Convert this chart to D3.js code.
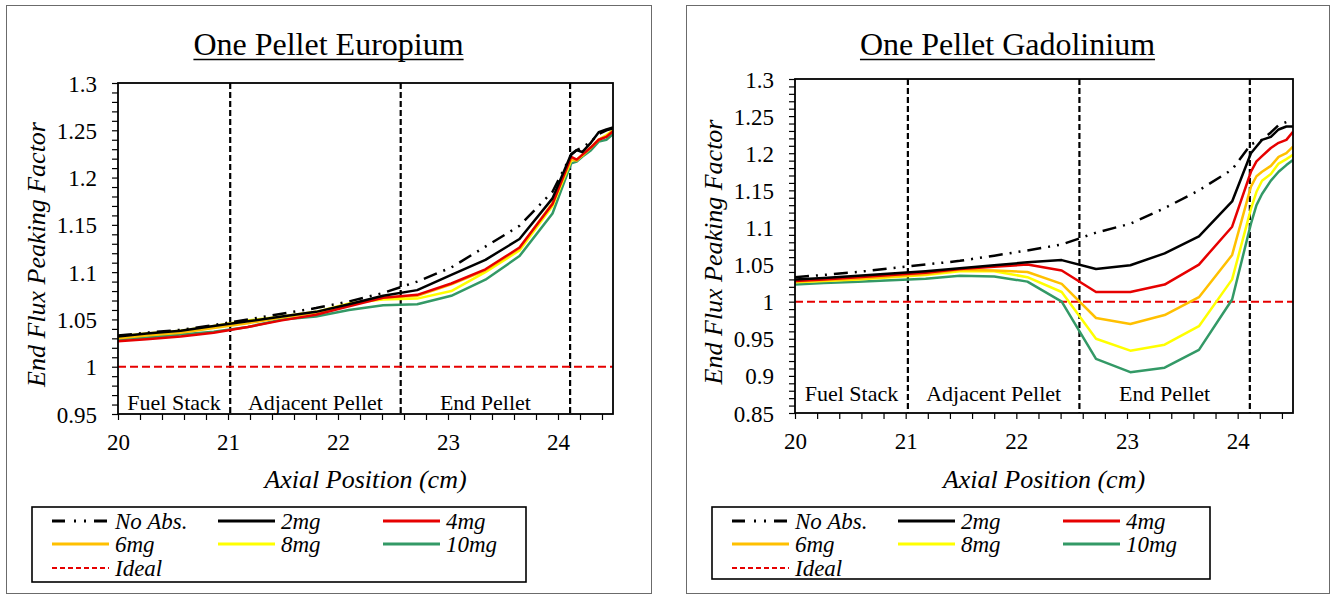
<!DOCTYPE html>
<html><head><meta charset="utf-8">
<script src="https://cdn.jsdelivr.net/npm/d3@7"></script>
<style>
body{margin:0;background:#fff;} svg{display:block;}
svg text{font-family:"Liberation Serif","Times New Roman",Times,serif;}
</style>
</head><body>
<svg id="c" width="1332" height="595"></svg>
<script>
// ---------- data ----------
const axialPos = [20.0, 20.26, 20.57, 20.87, 21.18, 21.49, 21.80, 22.10, 22.41, 22.72, 23.03, 23.34, 23.65, 23.95, 24.12, 24.17, 24.22, 24.30, 24.37, 24.44, 24.50];

// One Pellet Europium
const euNoAbs = [1.033, 1.036, 1.039, 1.044, 1.050, 1.056, 1.062, 1.069, 1.078, 1.090, 1.105, 1.127, 1.149, 1.185, 1.224, 1.229, 1.232, 1.238, 1.246, 1.250, 1.252];
const eu2mg   = [1.032, 1.035, 1.038, 1.043, 1.048, 1.053, 1.058, 1.066, 1.075, 1.081, 1.097, 1.113, 1.135, 1.178, 1.225, 1.229, 1.227, 1.237, 1.248, 1.251, 1.253];
const eu4mg   = [1.027, 1.029, 1.032, 1.036, 1.042, 1.049, 1.055, 1.064, 1.073, 1.076, 1.088, 1.103, 1.126, 1.172, 1.222, 1.219, 1.224, 1.232, 1.240, 1.243, 1.249];
const eu6mg   = [1.030, 1.033, 1.036, 1.041, 1.046, 1.052, 1.057, 1.066, 1.073, 1.075, 1.087, 1.102, 1.125, 1.173, 1.219, 1.218, 1.224, 1.232, 1.240, 1.244, 1.249];
const eu8mg   = [1.032, 1.035, 1.038, 1.043, 1.049, 1.053, 1.058, 1.067, 1.071, 1.072, 1.080, 1.100, 1.123, 1.170, 1.218, 1.219, 1.223, 1.232, 1.240, 1.245, 1.250];
const eu10mg  = [1.029, 1.031, 1.034, 1.037, 1.042, 1.050, 1.053, 1.060, 1.065, 1.066, 1.075, 1.092, 1.117, 1.162, 1.215, 1.217, 1.222, 1.229, 1.238, 1.240, 1.246];

// One Pellet Gadolinium
const gdNoAbs = [1.033, 1.036, 1.040, 1.045, 1.050, 1.055, 1.062, 1.069, 1.077, 1.093, 1.105, 1.126, 1.150, 1.178, 1.212, 1.215, 1.218, 1.228, 1.238, 1.242, 1.243];
const gd2mg   = [1.030, 1.032, 1.035, 1.038, 1.041, 1.045, 1.049, 1.053, 1.056, 1.044, 1.049, 1.065, 1.088, 1.135, 1.200, 1.209, 1.218, 1.222, 1.232, 1.236, 1.236];
const gd4mg   = [1.028, 1.030, 1.033, 1.036, 1.039, 1.044, 1.047, 1.050, 1.042, 1.013, 1.013, 1.023, 1.050, 1.101, 1.175, 1.189, 1.196, 1.207, 1.214, 1.218, 1.229];
const gd6mg   = [1.027, 1.029, 1.031, 1.034, 1.037, 1.043, 1.042, 1.040, 1.024, 0.978, 0.970, 0.982, 1.006, 1.063, 1.155, 1.169, 1.175, 1.183, 1.195, 1.200, 1.209];
const gd8mg   = [1.026, 1.028, 1.030, 1.033, 1.036, 1.041, 1.041, 1.033, 1.013, 0.950, 0.934, 0.942, 0.967, 1.030, 1.125, 1.148, 1.163, 1.172, 1.186, 1.192, 1.198];
const gd10mg  = [1.023, 1.025, 1.027, 1.029, 1.031, 1.035, 1.034, 1.027, 1.000, 0.923, 0.905, 0.911, 0.935, 1.003, 1.105, 1.130, 1.145, 1.163, 1.175, 1.184, 1.191];

const idealValue = 1;
const seriesNames = ["No Abs.", "2mg", "4mg", "6mg", "8mg", "10mg", "Ideal"];
const regionLabels = ["Fuel Stack", "Adjacent Pellet", "End Pellet"];
const regionBounds = [21.02, 22.57, 24.11];
const xTicks = [20, 21, 22, 23, 24];
const yTicksEu = [0.95, 1, 1.05, 1.1, 1.15, 1.2, 1.25, 1.3];
const yTicksGd = [0.85, 0.9, 0.95, 1, 1.05, 1.1, 1.15, 1.2, 1.25, 1.3];
const titles = ["One Pellet Europium", "One Pellet Gadolinium"];

// ---------- styles ----------
const styles = {
  "No Abs.": {color: "#000000", dash: "14,7,2,7,2,7", width: 2.5},
  "2mg":  {color: "#000000", dash: null, width: 2.5},
  "4mg":  {color: "#E60000", dash: null, width: 2.5},
  "6mg":  {color: "#FFC000", dash: null, width: 2.5},
  "8mg":  {color: "#FFFF00", dash: null, width: 2.5},
  "10mg": {color: "#339966", dash: null, width: 2.5},
  "Ideal":{color: "#E60000", dash: "8,4", width: 2}
};

const svg = d3.select("#c");

function drawChart(cfg) {
  const g = svg.append("g");
  g.append("rect").attr("x", cfg.panel[0] + 0.5).attr("y", cfg.panel[1] + 0.5)
    .attr("width", cfg.panel[2]).attr("height", cfg.panel[3])
    .attr("fill", "none").attr("stroke", "#6b6b6b").attr("stroke-width", 1);

  const [L, T, R, B] = cfg.plot;
  const x = d3.scaleLinear().domain([20, 24.5]).range([L, R]);
  const y = d3.scaleLinear().domain(cfg.yDomain).range([B, T]);

  const clipId = "clip" + cfg.id;
  g.append("clipPath").attr("id", clipId).append("rect")
    .attr("x", L).attr("y", T).attr("width", R - L).attr("height", B - T);

  const yMinor = d3.range(Math.round(cfg.yDomain[0] * 100), Math.round(cfg.yDomain[1] * 100) + 1).map(v => v / 100);
  const xMinor = d3.range(100, 123).map(v => v / 5);
  g.append("g").attr("transform", `translate(${L},0)`)
    .call(d3.axisLeft(y).tickValues(yMinor).tickSize(6).tickFormat(""))
    .call(a => a.select(".domain").remove())
    .call(a => a.selectAll("line").attr("stroke", "#000").attr("stroke-width", 1.2));
  g.append("g").attr("transform", `translate(0,${B})`)
    .call(d3.axisBottom(x).tickValues(xMinor).tickSize(6).tickFormat(""))
    .call(a => a.select(".domain").remove())
    .call(a => a.selectAll("line").attr("stroke", "#000").attr("stroke-width", 1.2));

  const yAx = g.append("g").attr("transform", `translate(${L},0)`)
    .call(d3.axisLeft(y).tickValues(cfg.yTicks).tickSize(0).tickPadding(21).tickFormat(d3.format("~g")));
  yAx.select(".domain").remove();
  yAx.attr("font-family", null).attr("font-size", null);
  yAx.selectAll("text").style("font-size", "23px").attr("fill", "#000").attr("dy", "0.35em");
  const xAx = g.append("g").attr("transform", `translate(0,${B})`)
    .call(d3.axisBottom(x).tickValues(xTicks).tickSize(0).tickPadding(0).tickFormat(d3.format("d")));
  xAx.select(".domain").remove();
  xAx.attr("font-family", null).attr("font-size", null);
  xAx.selectAll("text").style("font-size", "23px").attr("fill", "#000")
    .attr("dy", null).attr("y", 36);

  g.selectAll(".bound").data(regionBounds).enter().append("line")
    .attr("x1", d => x(d)).attr("x2", d => x(d)).attr("y1", T).attr("y2", B)
    .attr("stroke", "#000").attr("stroke-width", 2.2).attr("stroke-dasharray", "6,3");

  const ideal = styles["Ideal"];
  g.append("line").attr("x1", L).attr("x2", R).attr("y1", y(idealValue)).attr("y2", y(idealValue))
    .attr("stroke", ideal.color).attr("stroke-width", ideal.width).attr("stroke-dasharray", ideal.dash);

  const line = d3.line().x((d, i) => x(axialPos[i])).y(d => y(d));
  const order = [5, 4, 3, 2, 1, 0];
  const lg = g.append("g").attr("clip-path", `url(#${clipId})`);
  order.forEach(k => {
    const name = seriesNames[k];
    const st = styles[name];
    lg.append("path").datum(cfg.series[k]).attr("d", line)
      .attr("fill", "none").attr("stroke", st.color).attr("stroke-width", st.width)
      .attr("stroke-linejoin", "round")
      .attr("stroke-dasharray", st.dash);
  });

  const rEdges = [20].concat(regionBounds);
  regionLabels.forEach((lab, i) => {
    g.append("text").attr("x", x((rEdges[i] + rEdges[i + 1]) / 2)).attr("y", cfg.regionBase)
      .attr("text-anchor", "middle").style("font-size", "22px")
      .attr("fill", "#000").text(lab);
  });

  g.append("rect").attr("x", L).attr("y", T).attr("width", R - L).attr("height", B - T)
    .attr("fill", "none").attr("stroke", "#000").attr("stroke-width", 1.8);

  const cx = cfg.panel[0] + cfg.panel[2] / 2;
  const tt = g.append("text").attr("x", cx).attr("y", 55).attr("text-anchor", "middle")
    .style("font-size", "32px").attr("fill", "#000").text(cfg.title);
  const tw = tt.node().getComputedTextLength();
  g.append("line").attr("x1", cx - tw / 2).attr("x2", cx + tw / 2).attr("y1", 59.5).attr("y2", 59.5)
    .attr("stroke", "#000").attr("stroke-width", 1.6);

  g.append("text").attr("transform", `translate(${L - 73},${(T + B) / 2 + 6}) rotate(-90)`)
    .attr("text-anchor", "middle").style("font-style", "italic")
    .style("font-size", "26px").attr("fill", "#000").text("End Flux Peaking Factor");
  g.append("text").attr("x", (L + R) / 2).attr("y", 488).attr("text-anchor", "middle")
    .style("font-style", "italic").style("font-size", "26px")
    .attr("fill", "#000").text("Axial Position (cm)");

  const [lx, ly, lw, lh] = cfg.legend;
  g.append("rect").attr("x", lx).attr("y", ly).attr("width", lw).attr("height", lh)
    .attr("fill", "#fff").attr("stroke", "#000").attr("stroke-width", 1.6);
  const colX = [20, 186, 351];
  const rowY = [14, 37, 61];
  seriesNames.forEach((name, i) => {
    const c = i % 3, r = Math.floor(i / 3);
    const st = styles[name];
    const x0 = lx + colX[c], yy = ly + rowY[r];
    g.append("line").attr("x1", x0).attr("x2", x0 + 57).attr("y1", yy).attr("y2", yy)
      .attr("stroke", st.color).attr("stroke-width", name === "Ideal" ? 2.2 : 3)
      .attr("stroke-dasharray", name === "Ideal" ? "5,3" : (name === "No Abs." ? "13,9,2,8,2,8" : null));
    g.append("text").attr("x", x0 + 63).attr("y", yy + 7.5)
      .style("font-style", "italic").style("font-size", "23px")
      .attr("fill", "#000").text(name);
  });
}

drawChart({
  id: "eu", title: titles[0],
  panel: [6, 5, 645, 588],
  plot: [118, 83, 613, 414],
  yDomain: [0.95, 1.3], yTicks: yTicksEu,
  series: [euNoAbs, eu2mg, eu4mg, eu6mg, eu8mg, eu10mg],
  regionBase: 410,
  legend: [32, 507, 494, 75]
});
drawChart({
  id: "gd", title: titles[1],
  panel: [686, 5, 643, 588],
  plot: [795, 79, 1293, 413],
  yDomain: [0.85, 1.3], yTicks: yTicksGd,
  series: [gdNoAbs, gd2mg, gd4mg, gd6mg, gd8mg, gd10mg],
  regionBase: 401,
  legend: [712, 507, 498, 72]
});
</script>
</body></html>
